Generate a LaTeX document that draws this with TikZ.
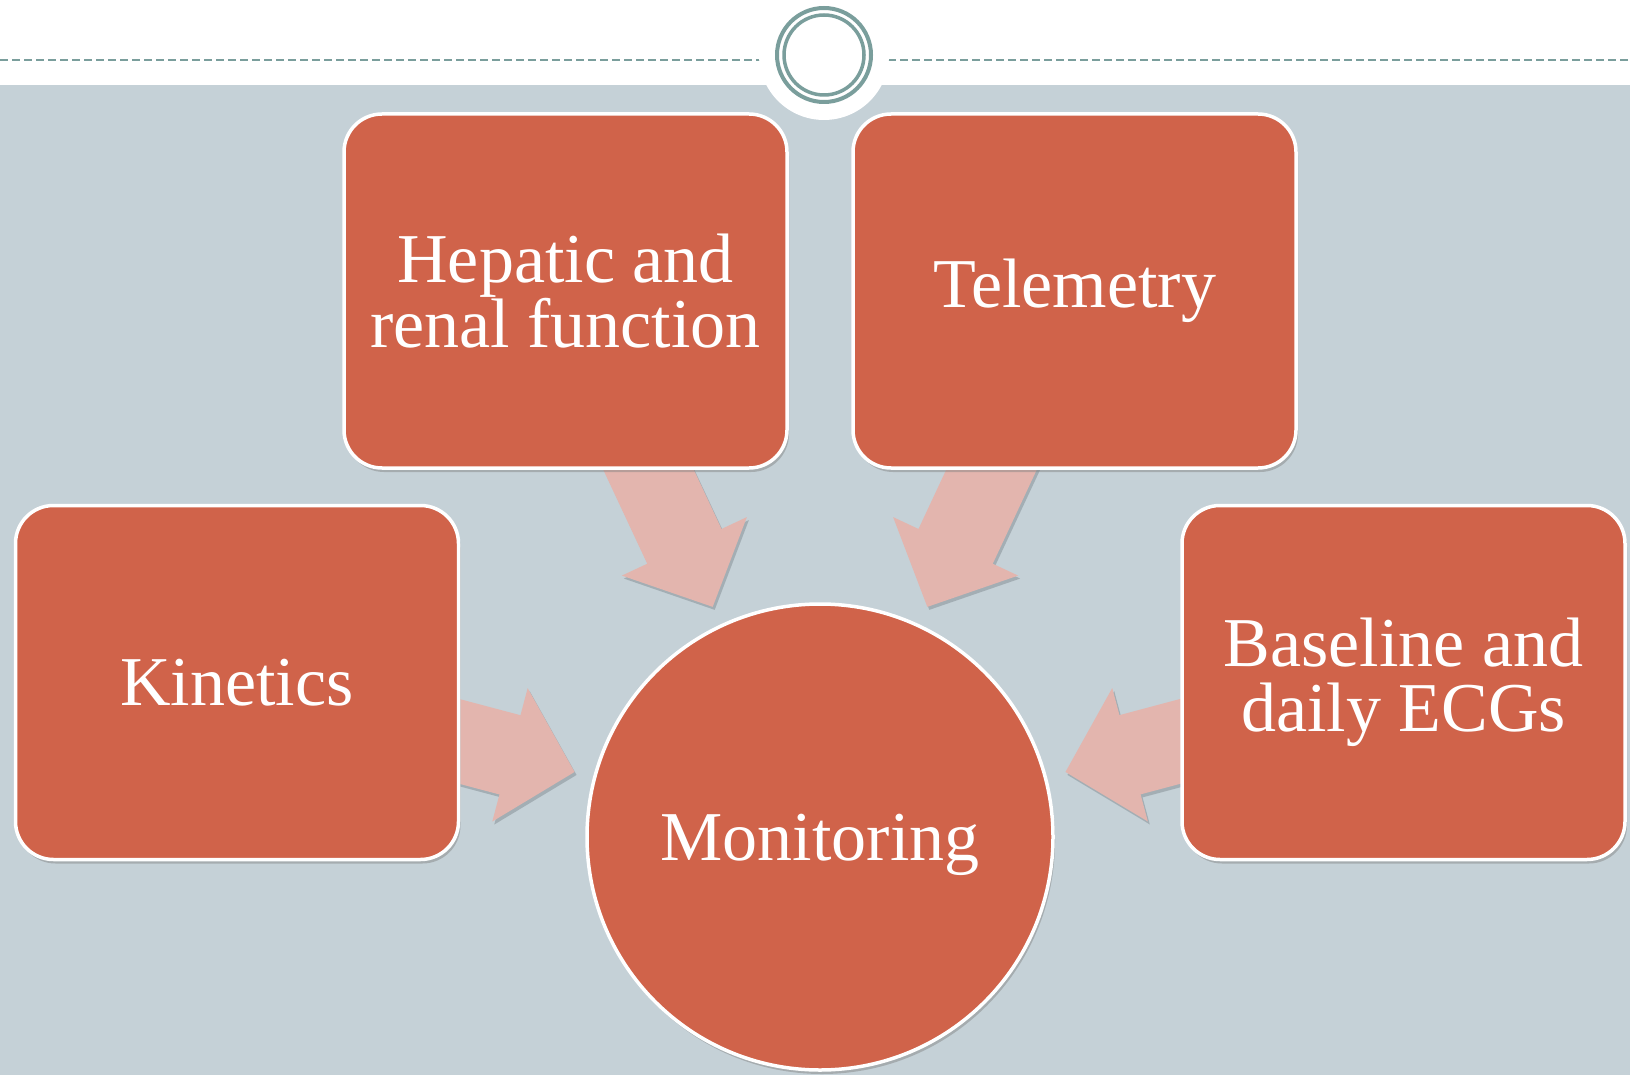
\documentclass[tikz,border=0pt]{standalone}
\usepackage{fontspec}
\setmainfont{Liberation Serif}
\usetikzlibrary{arrows.meta,shadows}
\definecolor{boxred}{HTML}{D0634A}
\definecolor{flowpink}{HTML}{E3B5AE}
\definecolor{slate}{HTML}{C5D1D7}
\definecolor{flowshade}{HTML}{A3AEB4}
\definecolor{ringteal}{HTML}{7A9E9C}
\pgfdeclarelayer{bg}
\pgfdeclarelayer{flows}
\pgfsetlayers{bg,flows,main}
\tikzset{
	box/.style={%rounded tiles round the hub
		draw=white, line width=3.5pt, fill=boxred, rounded corners=38pt,
		minimum width=443pt, minimum height=354pt,
		text=white, align=center, font=\fontsize{70}{65}\selectfont,
		drop shadow={shadow xshift=2pt, shadow yshift=-4pt, opacity=0.45}},
	hub/.style={
		circle, draw=white, line width=3.5pt, fill=boxred, minimum size=466pt,
		text=white, text depth=0pt, font=\fontsize{70}{65}\selectfont,
		drop shadow={shadow xshift=2pt, shadow yshift=-4pt, opacity=0.45}},
	flow/.style={
		draw=flowpink, line width=82pt, -{Triangle[length=67pt,width=134pt]},
		shorten >=19pt, shorten <=-40pt},
	flowshadow/.style={flow, draw=flowshade, transform canvas={shift={(2pt,-3pt)}}}
}

\begin{document}
\begin{tikzpicture}[x=1pt,y=-1pt]
	\useasboundingbox (0,0) rectangle (1630,1075);
	\begin{pgfonlayer}{bg}
		\fill [white] (0,0) rectangle (1630,85);
		\fill [slate] (0,85) rectangle (1630,1075);
		\draw [ringteal, line width=1.5pt, dash pattern=on 8pt off 4pt] (0,60) -- (1630,60);
	\end{pgfonlayer}
	\fill [white] (824,55) circle (65);
	\draw [ringteal, line width=4pt] (824,55) circle (47);
	\draw [ringteal, line width=3.5pt] (824,55) circle (40);

	\node [hub] (mon) at (820,837) {Monitoring};
	\node [box] (hep) at (565.5,291) {Hepatic and\\renal function};
	\node [box] (tel) at (1074.5,291) {Telemetry};
	\node [box] (kin) at (237,682.5) {Kinetics};
	\node [box] (ecg) at (1403.5,682.5) {Baseline and\\daily ECGs};

	\begin{pgfonlayer}{flows}
		\foreach \src in {hep,tel,kin,ecg}
			\draw [flowshadow] (\src) -- (mon);
		\foreach \src in {hep,tel,kin,ecg}
			\draw [flow] (\src) -- (mon);
	\end{pgfonlayer}
\end{tikzpicture}
\end{document}
